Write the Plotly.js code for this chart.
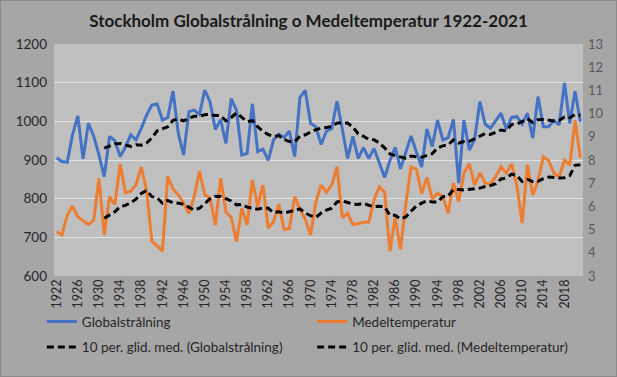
<!DOCTYPE html>
<html>
<head>
<meta charset="utf-8">
<script src="https://cdn.plot.ly/plotly-3.0.1.min.js"></script>
<style>
html,body{margin:0;padding:0;background:#a6a6a6;}
#wrap{position:relative;width:617px;height:377px;}
#chart{width:617px;height:377px;}
#frame{position:absolute;left:0;top:0;width:615px;height:375px;border:1px solid #8a8a8a;pointer-events:none;}
</style>
</head>
<body>
<div id="wrap"><div id="chart"></div><div id="frame"></div></div>
<script>
const years = [];
for (let y = 1922; y <= 2021; y++) years.push(y);

const globalstralning = [
 906, 896, 894, 965, 1014, 903, 995, 962, 913, 857,
 961, 950, 909, 933, 965, 952, 982, 1016, 1042, 1045,
 1003, 1010, 1078, 969, 913, 1025, 1029, 1018, 1081, 1050,
 979, 1004, 943, 1059, 1029, 913, 917, 1045, 922, 928,
 899, 952, 967, 958, 975, 909, 1062, 1080, 995, 986,
 940, 975, 981, 1052, 980, 904, 961, 904, 932, 904,
 930, 891, 855, 898, 933, 877, 921, 962, 921, 882,
 980, 935, 1003, 952, 958, 1005, 840, 1003, 926, 952,
 1051, 993, 982, 1003, 1021, 980, 1010, 1012, 993, 1021,
 957, 1064, 986, 986, 1002, 991, 1099, 995, 1078, 999
];

const medeltemperatur = [
 4.92, 4.77, 5.62, 6.02, 5.55, 5.39, 5.22, 5.39, 7.21, 4.77,
 6.42, 6.08, 7.83, 6.59, 6.66, 6.94, 7.70, 6.70, 4.50, 4.30,
 4.07, 7.30, 6.75, 6.49, 6.15, 5.70, 6.42, 7.52, 6.50, 6.35,
 5.20, 7.21, 5.77, 5.52, 4.48, 5.92, 5.20, 7.14, 5.99, 6.92,
 5.05, 5.34, 6.10, 5.00, 5.05, 6.42, 5.88, 5.45, 4.77, 6.20,
 6.92, 6.60, 6.92, 7.71, 5.52, 5.71, 5.22, 5.25, 5.32, 5.32,
 6.28, 6.85, 6.60, 4.07, 5.52, 4.15, 6.10, 7.70, 7.60, 6.56,
 7.25, 6.32, 6.58, 6.42, 5.70, 7.00, 6.20, 7.45, 7.84, 6.92,
 7.45, 7.00, 6.97, 7.28, 7.71, 7.43, 7.83, 6.90, 5.28, 7.80,
 6.49, 7.10, 8.13, 7.98, 7.43, 7.27, 8.00, 7.78, 9.72, 8.09
];

const leftTicks = [600, 700, 800, 900, 1000, 1100, 1200];
const rightTicks = [3, 4, 5, 6, 7, 8, 9, 10, 11, 12, 13];
const xTickYears = years.filter((y, i) => i % 4 === 0);

// Excel-style 10-period moving average trendline
function movingAverage(arr, n) {
  return arr.map((v, i) => {
    if (i < n - 1) return null;
    let s = 0;
    for (let k = i - n + 1; k <= i; k++) s += arr[k];
    return s / n;
  });
}
const maGlob = movingAverage(globalstralning, 10);
const maTemp = movingAverage(medeltemperatur, 10);

const FONT = 'Lato, "Open Sans", sans-serif';

const traces = [
  {x: years, y: globalstralning, name: 'Globalstrålning', type: 'scatter', mode: 'lines',
   line: {color: '#4472C4', width: 3}, yaxis: 'y', legend: 'legend', legendgroup: 'a'},
  {x: years, y: medeltemperatur, name: 'Medeltemperatur', type: 'scatter', mode: 'lines',
   line: {color: '#ED7D31', width: 3}, yaxis: 'y2', legend: 'legend2', legendgroup: 'c'},
  {x: years, y: maGlob, name: '10 per. glid. med. (Globalstrålning)', type: 'scatter', mode: 'lines',
   line: {color: '#000000', width: 3, dash: '7px,4px'}, yaxis: 'y', legend: 'legend', legendgroup: 'b'},
  {x: years, y: maTemp, name: '10 per. glid. med. (Medeltemperatur)', type: 'scatter', mode: 'lines',
   line: {color: '#000000', width: 3, dash: '7px,4px'}, yaxis: 'y2', legend: 'legend2', legendgroup: 'd'}
];

const legendCommon = {
  orientation: 'v', bgcolor: 'rgba(0,0,0,0)', borderwidth: 0,
  font: {family: FONT, size: 13.5, color: '#262626'},
  tracegroupgap: 5, itemwidth: 30, yanchor: 'top', xanchor: 'left'
};

const layout = {
  width: 617, height: 377,
  paper_bgcolor: '#a6a6a6', plot_bgcolor: '#bfbfbf',
  margin: {l: 54, r: 34, t: 44, b: 101},
  showlegend: true,
  title: {text: '<b>Stockholm Globalstrålning o Medeltemperatur 1922-2021</b>',
          font: {family: FONT, size: 17, color: '#1a1a1a'}, x: 0.5, xanchor: 'center', y: 0.945, yanchor: 'middle'},
  xaxis: {range: [1921.5, 2021.5], tickmode: 'array', tickvals: xTickYears, ticktext: xTickYears.map(String),
          tickangle: -90, showgrid: false, zeroline: false, showline: false, ticks: '', automargin: false,
          tickfont: {family: FONT, size: 12.5, color: '#262626'}, fixedrange: true},
  yaxis: {range: [600, 1200], tickmode: 'array', tickvals: leftTicks, showgrid: true, gridcolor: '#e2e2e2', gridwidth: 1,
          zeroline: false, showline: false, ticks: '', automargin: false, tickfont: {family: FONT, size: 13.5, color: '#262626'}, ticklabelstandoff: 6},
  yaxis2: {range: [3, 13], tickmode: 'array', tickvals: rightTicks, overlaying: 'y', side: 'right', showgrid: false,
           zeroline: false, showline: false, ticks: '', automargin: false, tickfont: {family: FONT, size: 13, color: '#595959'}, ticklabelstandoff: 4},
  legend: Object.assign({}, legendCommon, {x: -0.023, y: -0.13}),
  legend2: Object.assign({}, legendCommon, {x: 0.488, y: -0.13})
};

Plotly.newPlot('chart', traces, layout, {displayModeBar: false, staticPlot: true});
</script>
</body>
</html>
